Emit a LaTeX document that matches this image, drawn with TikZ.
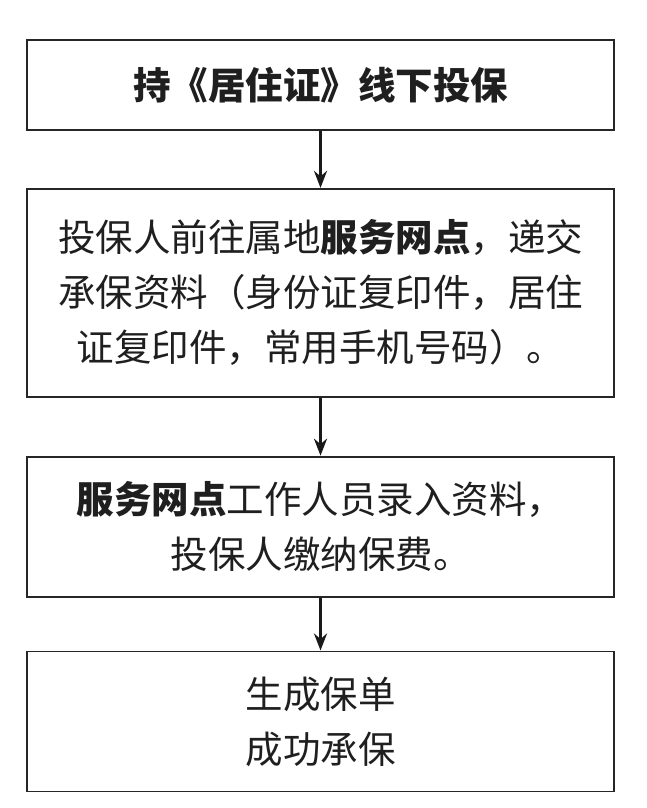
\documentclass[tikz,border=0pt]{standalone}
\usepackage{fontspec}
\setmainfont{Noto Sans CJK SC}
\usetikzlibrary{positioning,arrows.meta}
\begin{document}
\begin{tikzpicture}[x=1pt,y=-1pt,
		kuang/.style={draw=black!85,line width=1.8pt,minimum width=587pt,align=center,
			font=\fontsize{37.5}{55}\selectfont,text=black!88},
		jiantou/.style={-{Stealth[length=17pt,width=13pt]},line width=3pt,draw=black!90}]
		\useasboundingbox (0,0) rectangle (646,808);
		\node[kuang,minimum height=90pt,font=\fontsize{37.5}{55}\selectfont\bfseries] (chi) at (320.5,85) {持《居住证》线下投保};
		\node[kuang,minimum height=208pt,below=57pt of chi] (dijiao) {投保人前往属地\textbf{服务网点}，递交\\承保资料（身份证复印件，居住\\证复印件，常用手机号码）。};
		\node[kuang,minimum height=140pt,below=58pt of dijiao] (luru) {\textbf{服务网点}工作人员录入资料，\\投保人缴纳保费。};
		\node[kuang,minimum height=140pt,below=53pt of luru] (chengbao) {生成保单\\成功承保};
		\draw[jiantou] (chi.south) -- (dijiao.north);
		\draw[jiantou] (dijiao.south) -- (luru.north);
		\draw[jiantou] (luru.south) -- (chengbao.north);
	\end{tikzpicture}
\end{document}
